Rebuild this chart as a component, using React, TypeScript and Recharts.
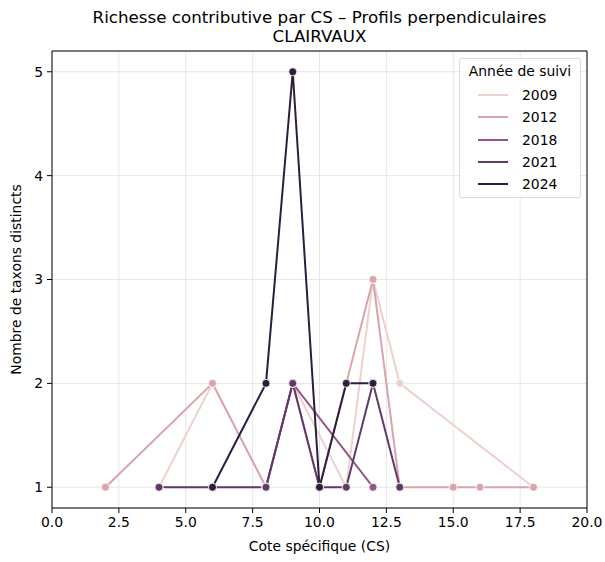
import React from 'react';
import { LineChart, Line, XAxis, YAxis, CartesianGrid, ReferenceLine } from 'recharts';

// Values
const X_TICKS = [0, 2.5, 5, 7.5, 10, 12.5, 15, 17.5, 20];
const Y_TICKS = [1, 2, 3, 4, 5];
const YEARS = ['2009', '2012', '2018', '2021', '2024'];
const COLORS = ['#edd1cb', '#daa4ac', '#935685', '#613969', '#2d1e3e'];

const CS_2009 = [4, 6, 8, 9, 11, 12, 13, 18];
const N_2009 = [1, 2, 1, 2, 1, 3, 2, 1];
const CS_2012 = [2, 6, 8, 9, 10, 12, 13, 15, 16, 18];
const N_2012 = [1, 2, 1, 2, 1, 3, 1, 1, 1, 1];
const CS_2018 = [8, 9, 12];
const N_2018 = [1, 2, 1];
const CS_2021 = [4, 6, 8, 9, 10, 11, 12, 13];
const N_2021 = [1, 1, 1, 2, 1, 1, 2, 1];
const CS_2024 = [6, 8, 9, 10, 11, 12];
const N_2024 = [1, 2, 5, 1, 2, 2];

const build = (xs: number[], ys: number[]) => xs.map((cs, i) => ({ cs, n: ys[i] }));
const SERIES = [
  build(CS_2009, N_2009),
  build(CS_2012, N_2012),
  build(CS_2018, N_2018),
  build(CS_2021, N_2021),
  build(CS_2024, N_2024),
];

const FONT = '"DejaVu Sans", sans-serif';
const tickStyle = { fontSize: 13.9, fill: '#000', fontFamily: FONT };

export default function App() {
  return (
    <div style={{ position: 'absolute', left: 0, top: 0, width: 605, height: 562, background: '#fff', fontFamily: FONT }}>
      <div style={{ position: 'absolute', left: 0, width: 639, top: 8, textAlign: 'center', fontSize: 16.7, lineHeight: '19px', color: '#000' }}>
        Richesse contributive par CS – Profils perpendiculaires
        <br />
        CLAIRVAUX
      </div>
      <LineChart width={605} height={562} margin={{ top: 51, right: 18, left: 0, bottom: 0 }}>
        <CartesianGrid stroke="#e6e6e6" strokeWidth={1} />
        <XAxis
          type="number"
          dataKey="cs"
          domain={[0, 20]}
          ticks={X_TICKS}
          tickFormatter={(v: number) => v.toFixed(1)}
          allowDataOverflow
          height={54}
          tick={tickStyle}
          tickSize={5}
          tickMargin={4}
          axisLine={{ stroke: '#000', strokeWidth: 1 }}
          tickLine={{ stroke: '#000' }}
          label={{ value: 'Cote spécifique (CS)', position: 'insideBottom', offset: 11, style: { fontSize: 13.9, fill: '#000', fontFamily: FONT } }}
        />
        <YAxis
          type="number"
          dataKey="n"
          domain={[0.8, 5.2]}
          ticks={Y_TICKS}
          allowDataOverflow
          width={52}
          tick={tickStyle}
          tickSize={5}
          tickMargin={4}
          axisLine={{ stroke: '#000', strokeWidth: 1 }}
          tickLine={{ stroke: '#000' }}
          label={{ value: 'Nombre de taxons distincts', angle: -90, position: 'insideLeft', offset: 16, style: { textAnchor: 'middle', fontSize: 13.9, fill: '#000', fontFamily: FONT } }}
        />
        <ReferenceLine x={20} stroke="#000" strokeWidth={1} />
        <ReferenceLine y={5.2} stroke="#000" strokeWidth={1} />
        {SERIES.map((data, i) => (
          <Line
            key={YEARS[i]}
            data={data}
            dataKey="n"
            name={YEARS[i]}
            type="linear"
            stroke={COLORS[i]}
            strokeWidth={2}
            dot={{ r: 4, fill: COLORS[i], stroke: '#fff', strokeWidth: 0.8 }}
            activeDot={false}
            isAnimationActive={false}
          />
        ))}
      </LineChart>
      <div
        style={{
          position: 'absolute',
          left: 459,
          top: 58,
          width: 120,
          height: 138,
          border: '1px solid #d9d9d9',
          borderRadius: 3,
          background: 'rgba(255,255,255,0.85)',
          fontSize: 13.9,
          color: '#000',
        }}
      >
        <div style={{ textAlign: 'center', marginTop: 3, lineHeight: '18px' }}>Année de suivi</div>
        {YEARS.map((y, i) => (
          <div key={y} style={{ position: 'absolute', top: 27 + i * 22.3, left: 0, height: 18, width: 120 }}>
            <div style={{ position: 'absolute', left: 18, top: 8, width: 30, height: 2, background: COLORS[i] }} />
            <div style={{ position: 'absolute', left: 62, top: 0, lineHeight: '18px' }}>{y}</div>
          </div>
        ))}
      </div>
    </div>
  );
}
